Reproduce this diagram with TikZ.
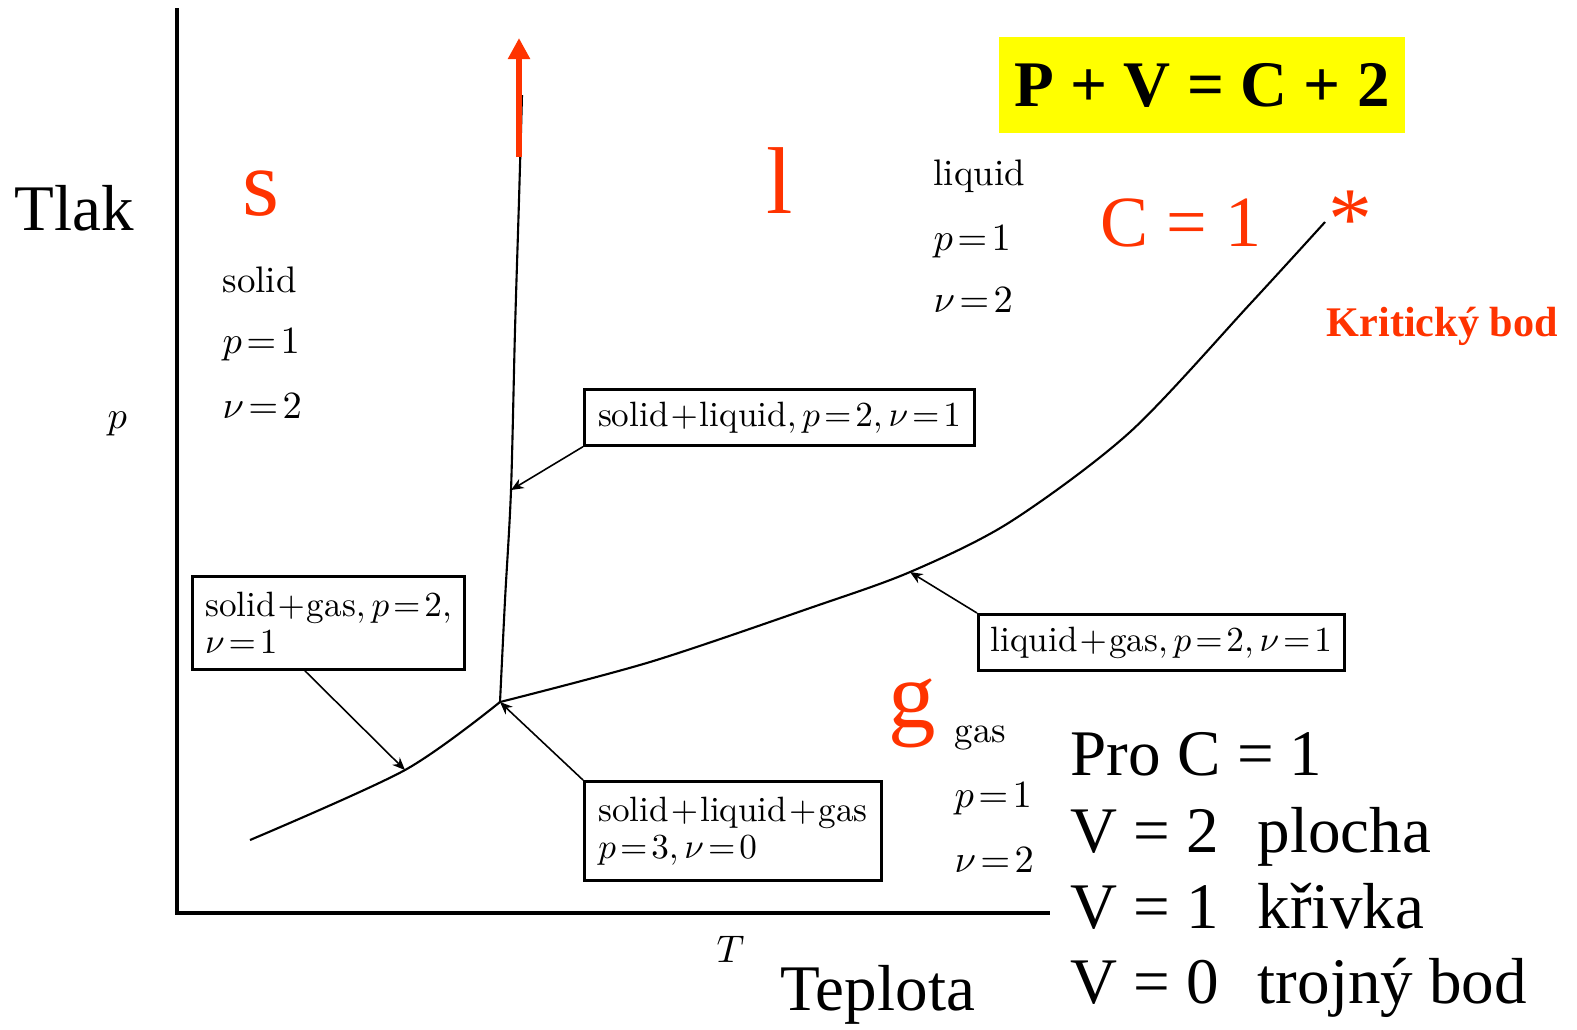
\documentclass[tikz,border=0pt]{standalone}
\usepackage{fontspec}
\newfontfamily\tms{Liberation Serif}
\usepackage{tikz}
\usetikzlibrary{calc, positioning, arrows.meta}
\definecolor{phaseRed}{RGB}{255, 51, 0}
\definecolor{ruleYellow}{RGB}{255, 255, 0}
\medmuskip=1mu
\thickmuskip=2mu

\begin{document}
\begin{tikzpicture}[x=0.01cm, y=-0.01cm, >={Stealth[length=3.6pt, width=3pt]},
    lbl/.style={anchor=base west, inner sep=0pt},
    bigtxt/.style={lbl, font=\tms\fontsize{18.5}{22}\selectfont},
    phase/.style={lbl, text=phaseRed, font=\tms\fontsize{27}{30}\selectfont},
    small/.style={lbl, font=\fontsize{10.5}{12}\selectfont},
    phasebox/.style={draw, line width=0.8pt, inner sep=3.5pt, align=left,
                     anchor=north west, font=\fontsize{10}{11.5}\selectfont},
    curve/.style={line width=0.6pt},
    pointer/.style={->, line width=0.45pt}]
  \useasboundingbox (0,0) rectangle (1577,1029);

  % Axes
  \coordinate (origin) at (177, 913);
  \coordinate (ytop) at (177, 8);
  \coordinate (xend) at (1050, 913);
  \draw[line width=1.1pt] (ytop) -- (origin) -- (xend);
  \node[bigtxt] (tlak) at (14, 230) {Tlak};
  \node[lbl, font=\fontsize{11}{12}\selectfont] (pax) at (107, 428) {$p$};
  \node[lbl, font=\fontsize{11}{12}\selectfont] (tax) at (716, 962) {$T$};
  \node[bigtxt] (teplota) at (780, 1010) {Teplota};

  % Phase curves
  \coordinate (tp) at (500, 702);
  \coordinate (slmid) at (511, 490);
  \coordinate (sltop) at (522, 95);
  \coordinate (sgstart) at (250, 840);
  \coordinate (sgmid) at (405, 770);
  \coordinate (lgmid) at (910, 572);
  \coordinate (crit) at (1325, 222);
  \draw[curve] plot[smooth] coordinates {(tp) (505, 600) (slmid) (515, 330) (519, 200) (sltop)};
  \draw[curve] plot[smooth] coordinates {(sgstart) (sgmid) (tp)};
  \draw[curve] plot[smooth] coordinates {(tp) (650, 662) (810, 608) (lgmid)
                                          (1010, 522) (1130, 432) (1250, 304) (crit)};
  \coordinate (uptail) at (519, 157);
  \coordinate (uphead) at (519, 38);
  \draw[-{Triangle[length=6pt, width=6pt]}, phaseRed, line width=1.7pt] (uptail) -- (uphead);
  \node[anchor=base, inner sep=0pt, text=phaseRed, font=\tms\fontsize{25}{27}\selectfont]
    (star) at (1350, 248) {*};
  \node[lbl, text=phaseRed, font=\tms\bfseries\fontsize{12}{14}\selectfont]
    (kriticky) at (1326, 336) {Kritický bod};

  % Phase regions
  \node[phase] (sreg) at (242, 215) {s};
  \node[small] (solid) at (222, 292) {solid};
  \node[small] (solidp) at (222, 353) {$p=1$};
  \node[small] (solidv) at (222, 418) {$\nu=2$};
  \node[phase] (lreg) at (766, 213) {l};
  \node[small] (liquid) at (933, 185) {liquid};
  \node[small] (liquidp) at (933, 250) {$p=1$};
  \node[small] (liquidv) at (933, 312) {$\nu=2$};
  \node[phase] (greg) at (888, 727) {g};
  \node[small] (gas) at (954, 742) {gas};
  \node[small] (gasp) at (954, 807) {$p=1$};
  \node[small] (gasv) at (954, 872) {$\nu=2$};
  \node[lbl, text=phaseRed, font=\tms\fontsize{20.5}{24}\selectfont]
    (cone) at (1100, 246) {C = 1};

  % Phase rule
  \node[fill=ruleYellow, minimum width=4.05cm, minimum height=0.95cm,
        font=\tms\bfseries\fontsize{18.5}{22}\selectfont] (rule) at (1202, 85) {P + V = C + 2};
  \node[bigtxt] (pro) at (1070, 775) {Pro C = 1};
  \node[bigtxt] (vtwo) at (1070, 852) {V = 2};
  \node[bigtxt] (vone) at (1070, 928) {V = 1};
  \node[bigtxt] (vzero) at (1070, 1003) {V = 0};
  \node[bigtxt] (plocha) at (1257, 852) {plocha};
  \node[bigtxt] (krivka) at (1257, 928) {křivka};
  \node[bigtxt] (trojny) at (1257, 1003) {trojný bod};

  % Boxes
  \node[phasebox, minimum width=3.9cm, minimum height=0.55cm] (liqsol) at (583, 388)
    {$\mathrm{solid}+\mathrm{liquid}, p=2, \nu=1$};
  \node[phasebox, minimum width=2.72cm, minimum height=0.93cm] (solgas) at (191, 575)
    {$\mathrm{solid}+\mathrm{gas}, p=2,$\\[-1pt] $\nu=1$};
  \node[phasebox, minimum width=2.97cm, minimum height=0.99cm] (triple) at (583, 780)
    {$\mathrm{solid}+\mathrm{liquid}+\mathrm{gas}$\\[-1pt] $p=3, \nu=0$};
  \node[phasebox, minimum width=3.65cm, minimum height=0.53cm] (liqgas) at (977, 613)
    {$\mathrm{liquid}+\mathrm{gas}, p=2, \nu=1$};

  \draw[pointer] (liqsol.south west) -- (slmid);
  \draw[pointer] ($(solgas.south west)+(114,0)$) -- (sgmid);
  \draw[pointer] (triple.north west) -- (tp);
  \draw[pointer] (liqgas.north west) -- (lgmid);
\end{tikzpicture}
\end{document}
